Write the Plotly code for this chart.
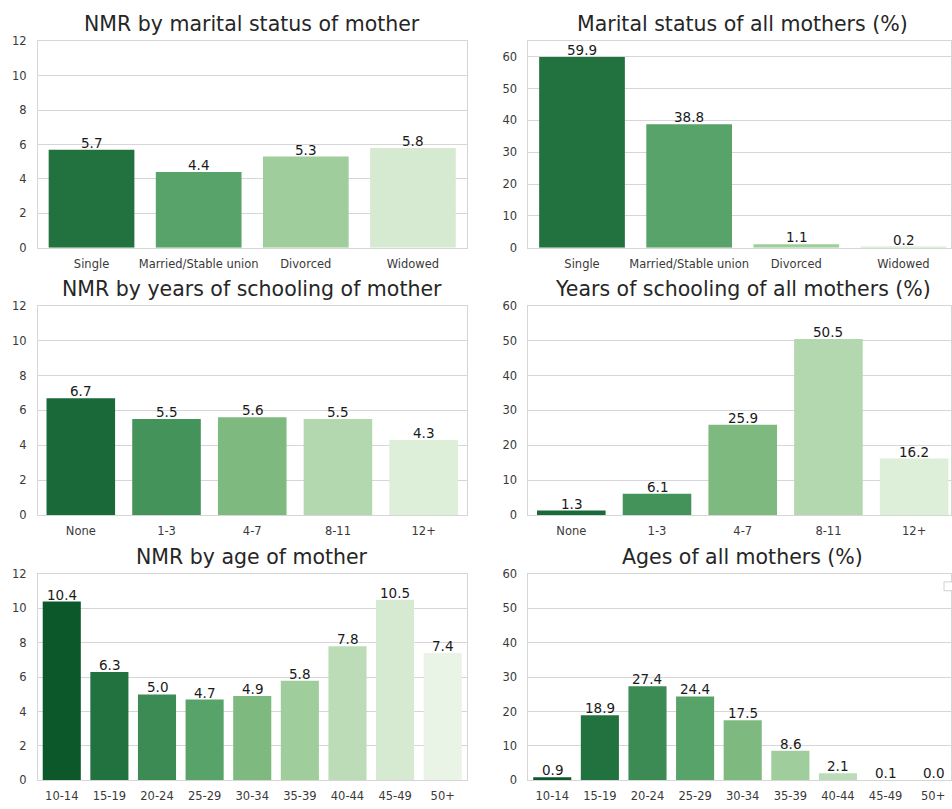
import colorsys
import numpy as np
import plotly.graph_objects as go

# ---------------- data ----------------
marital_cats = ["Single", "Married/Stable union", "Divorced", "Widowed"]
marital_nmr = [5.7, 4.4, 5.3, 5.8]
marital_pct = [59.9, 38.8, 1.1, 0.2]

school_cats = ["None", "1-3", "4-7", "8-11", "12+"]
school_nmr = [6.7, 5.5, 5.6, 5.5, 4.3]
school_pct = [1.3, 6.1, 25.9, 50.5, 16.2]

age_cats = ["10-14", "15-19", "20-24", "25-29", "30-34", "35-39", "40-44", "45-49", "50+"]
age_nmr = [10.4, 6.3, 5.0, 4.7, 4.9, 5.8, 7.8, 10.5, 7.4]
age_pct = [0.9, 18.9, 27.4, 24.4, 17.5, 8.6, 2.1, 0.1, 0.0]

titles = [
    "NMR by marital status of mother", "Marital status of all mothers (%)",
    "NMR by years of schooling of mother", "Years of schooling of all mothers (%)",
    "NMR by age of mother", "Ages of all mothers (%)",
]

# ---------------- style helpers ----------------
GREENS = ["#f7fcf5", "#e5f5e0", "#c7e9c0", "#a1d99b", "#74c476",
          "#41ab5d", "#238b45", "#006d2c", "#00441b"]


def _hex2rgb(h):
    h = h.lstrip("#")
    return [int(h[i:i + 2], 16) / 255 for i in (0, 2, 4)]


def greens_r(n, sat=0.75):
    stops = np.array([_hex2rgb(c) for c in GREENS])
    pos = np.linspace(0, 1, len(GREENS))
    out = []
    for v in np.linspace(0, 1, n + 2)[1:-1]:
        g = 1 - v
        rgb = [np.interp(g, pos, stops[:, k]) for k in range(3)]
        h, l, s = colorsys.rgb_to_hls(*rgb)
        r, gg, b = colorsys.hls_to_rgb(h, l, s * sat)
        out.append("#%02x%02x%02x" % (round(r * 255), round(gg * 255), round(b * 255)))
    return out


W, H = 952, 809
FONT = "DejaVu Sans"
GRID = "#d6d6d6"
TICKC = "#3a3a3a"

# panel pixel boxes (left, right) / (top, bottom)
left_x = (38, 467)
right_x = (529, 952)
right_full = 429.0  # full width of right panels (cut by the page edge)
rows_y = [(35, 245), (304, 517), (577, 787)]

panels = [
    (marital_cats, marital_nmr, [0, 12], list(range(0, 13, 2))),
    (marital_cats, marital_pct, [0, 64.8], list(range(0, 61, 10))),
    (school_cats, school_nmr, [0, 12], list(range(0, 13, 2))),
    (school_cats, school_pct, [0, 60], list(range(0, 61, 10))),
    (age_cats, age_nmr, [0, 12], list(range(0, 13, 2))),
    (age_cats, age_pct, [0, 60], list(range(0, 61, 10))),
]

fig = go.Figure()
annotations = []
layout_axes = {}

for i, (cats, vals, yr, ytv) in enumerate(panels):
    row, col = divmod(i, 2)
    idx = i + 1
    xa = "x" if idx == 1 else f"x{idx}"
    ya = "y" if idx == 1 else f"y{idx}"
    n = len(cats)
    xpx = left_x if col == 0 else right_x
    ypx = rows_y[row]
    if col == 0:
        xrange = [-0.5, n - 0.5]
    else:
        xrange = [-0.5, -0.5 + n * (right_x[1] - right_x[0]) / right_full]

    fig.add_trace(go.Bar(
        x=cats, y=vals, xaxis=xa, yaxis=ya,
        marker=dict(color=greens_r(n), line=dict(width=0)),
        showlegend=False, hoverinfo="x+y",
    ))

    # value labels just above each bar
    for c, v in zip(cats, vals):
        annotations.append(dict(
            text=f"{v:.1f}", xref=xa, yref=ya, x=c, y=v,
            xanchor="center", yanchor="bottom", yshift=-3, showarrow=False,
            font=dict(family=FONT, size=13.5, color="#1a1a1a"),
        ))

    xkey = "xaxis" if idx == 1 else f"xaxis{idx}"
    ykey = "yaxis" if idx == 1 else f"yaxis{idx}"
    layout_axes[xkey] = dict(
        domain=[xpx[0] / W, xpx[1] / W], anchor=ya,
        type="category", categoryorder="array", categoryarray=cats,
        range=xrange, showgrid=False, zeroline=False,
        showline=True, mirror=True, linecolor=GRID, linewidth=1,
        ticks="outside", ticklen=5, tickcolor="rgba(0,0,0,0)",
        tickfont=dict(family=FONT, size=11.5, color=TICKC),
    )
    layout_axes[ykey] = dict(
        domain=[1 - ypx[1] / H, 1 - ypx[0] / H], anchor=xa,
        range=yr, tickvals=ytv, showgrid=True, gridcolor=GRID, gridwidth=1,
        zeroline=False, showline=True, mirror=True, linecolor=GRID, linewidth=1,
        ticks="outside", ticklen=8, tickcolor="rgba(0,0,0,0)",
        tickfont=dict(family=FONT, size=11.5, color=TICKC),
    )

    # title centred over the full panel
    annotations.append(dict(
        text=titles[i], xref=xa, x=(n - 1) / 2, yref="paper", y=1 - ypx[0] / H,
        xanchor="center", yanchor="bottom", yshift=3, showarrow=False,
        font=dict(family=FONT, size=20.5, color="#262626"),
    ))

# empty legend box peeking in at the right edge of the last panel
shapes = [dict(type="rect", xref="paper", yref="paper",
               x0=945 / W, x1=956 / W, y0=1 - 594 / H, y1=1 - 585 / H,
               line=dict(color="#d0d0d0", width=1), fillcolor="white")]

fig.update_layout(
    width=W, height=H, margin=dict(l=0, r=0, t=0, b=0),
    paper_bgcolor="white", plot_bgcolor="white",
    bargap=0.2, annotations=annotations, shapes=shapes,
    font=dict(family=FONT), hovermode=False,
    **layout_axes,
)

# remove the default 8px page margin so the figure fills the window exactly
fig.write_html("out.html", config={"displayModeBar": False},
               post_script="document.body.style.margin='0px';")
